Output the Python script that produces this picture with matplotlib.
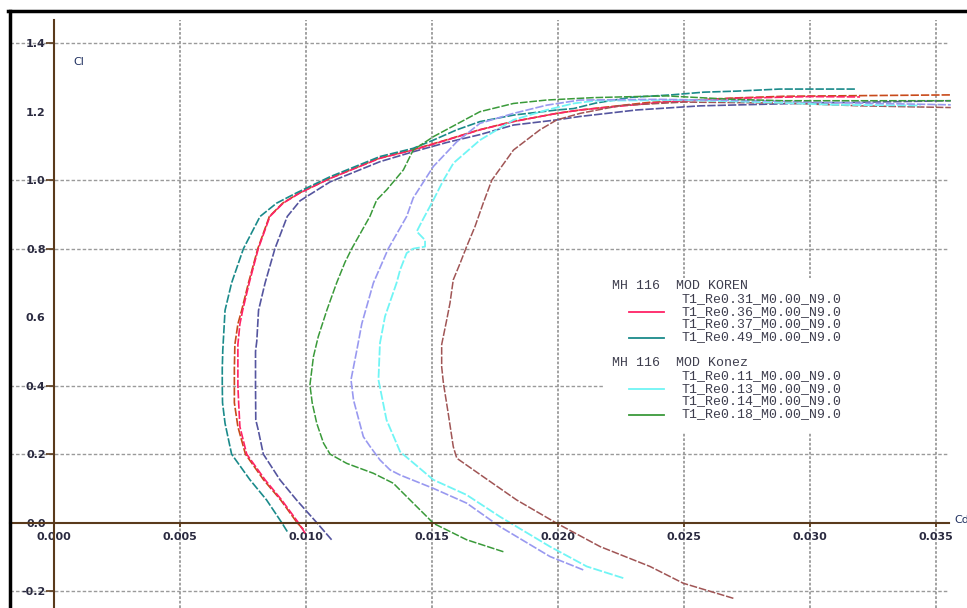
import matplotlib
matplotlib.use("Agg")
import matplotlib.pyplot as plt
from matplotlib.lines import Line2D
from matplotlib.patches import Rectangle

# polaires Cl(Cd) - MH 116, deux versions du profil
# MOD KOREN
cd_re031 = [0.01102, 0.01043, 0.00963, 0.00897, 0.00831, 0.00811, 0.00801, 0.00800, 0.00800, 0.00805, 0.00812,
            0.00838, 0.00877, 0.00926, 0.00977, 0.01096, 0.01294, 0.01426, 0.01559, 0.01691, 0.01824, 0.01996,
            0.02088, 0.02313, 0.02565, 0.0300, 0.0356]
cl_re031 = [-0.05, 0.0, 0.066, 0.125, 0.20, 0.27, 0.30, 0.40, 0.50, 0.53, 0.62,
            0.70, 0.80, 0.894, 0.94, 0.995, 1.054, 1.083, 1.110, 1.133, 1.161, 1.176,
            1.186, 1.205, 1.217, 1.225, 1.232]

cd_re036 = [0.00997, 0.0097, 0.00904, 0.00838, 0.00765, 0.00738, 0.00733, 0.0073, 0.0073, 0.0073, 0.00738,
            0.00749, 0.00775, 0.00811, 0.00857, 0.0091, 0.00977, 0.01096, 0.01294, 0.01426, 0.01559, 0.01691,
            0.01824, 0.01996, 0.02088, 0.02406, 0.02696, 0.0300, 0.0320]
cl_re036 = [-0.031, 0.0, 0.066, 0.125, 0.20, 0.28, 0.35, 0.40, 0.45, 0.52, 0.58,
            0.62, 0.70, 0.80, 0.894, 0.933, 0.963, 1.005, 1.064, 1.088, 1.117, 1.147,
            1.171, 1.195, 1.205, 1.227, 1.239, 1.244, 1.243]

cd_re037 = [0.0099, 0.00965, 0.009, 0.00832, 0.0076, 0.0073, 0.00716, 0.00716, 0.00716, 0.00718, 0.0073,
            0.00745, 0.00772, 0.00809, 0.00855, 0.00908, 0.00975, 0.01094, 0.0129, 0.0142, 0.01555, 0.01688,
            0.0182, 0.01995, 0.0209, 0.0236, 0.027, 0.029, 0.0356]
cl_re037 = [-0.02, 0.0, 0.066, 0.125, 0.20, 0.28, 0.35, 0.40, 0.45, 0.52, 0.58,
            0.62, 0.70, 0.80, 0.894, 0.933, 0.963, 1.005, 1.064, 1.088, 1.117, 1.147,
            1.171, 1.195, 1.205, 1.227, 1.24, 1.245, 1.249]

cd_re049 = [0.00926, 0.00904, 0.00844, 0.00778, 0.00705, 0.00679, 0.00669, 0.00668, 0.00668, 0.0067, 0.00679,
            0.00705, 0.00752, 0.00818, 0.00884, 0.00963, 0.01096, 0.01294, 0.01426, 0.01506, 0.01599, 0.01691,
            0.01824, 0.01996, 0.02062, 0.0215, 0.0229, 0.0245, 0.0258, 0.0271, 0.0288, 0.0318]
cl_re049 = [-0.026, 0.0, 0.066, 0.125, 0.20, 0.29, 0.35, 0.40, 0.45, 0.503, 0.62,
            0.70, 0.80, 0.894, 0.933, 0.963, 1.010, 1.069, 1.093, 1.117, 1.147, 1.171,
            1.190, 1.205, 1.209, 1.225, 1.242, 1.249, 1.257, 1.26, 1.266, 1.266]

# MOD Konez
cd_re011 = [0.02697, 0.02498, 0.02366, 0.02168, 0.01996, 0.01837, 0.01704, 0.01599, 0.01585, 0.01565, 0.01546,
            0.01539, 0.01539, 0.01559, 0.01572, 0.01585, 0.01612, 0.01638, 0.01671, 0.01704, 0.01738, 0.01824,
            0.01929, 0.01996, 0.02088, 0.0225, 0.025, 0.029, 0.032, 0.0356]
cl_re011 = [-0.221, -0.177, -0.128, -0.07, -0.002, 0.066, 0.134, 0.188, 0.222, 0.319, 0.407,
            0.455, 0.52, 0.592, 0.641, 0.709, 0.757, 0.806, 0.864, 0.933, 1.0, 1.088,
            1.147, 1.176, 1.195, 1.218, 1.228, 1.225, 1.217, 1.212]

cd_re013 = [0.0226, 0.02115, 0.01969, 0.01771, 0.01638, 0.01506, 0.01374, 0.0132, 0.01288, 0.01294, 0.01314,
            0.0136, 0.01374, 0.014, 0.01426, 0.01473, 0.01473, 0.0144, 0.0146, 0.01506, 0.01546, 0.01586,
            0.01691, 0.01824, 0.01956, 0.02062, 0.0215, 0.025, 0.028, 0.031, 0.0344]
cl_re013 = [-0.162, -0.128, -0.07, 0.017, 0.081, 0.125, 0.207, 0.30, 0.417, 0.524, 0.602,
            0.70, 0.738, 0.787, 0.80, 0.806, 0.825, 0.85, 0.879, 0.942, 1.0, 1.050,
            1.117, 1.176, 1.205, 1.224, 1.232, 1.234, 1.228, 1.220, 1.218]

cd_re014 = [0.02101, 0.01969, 0.01771, 0.01638, 0.01506, 0.01374, 0.01334, 0.01294, 0.01255, 0.01228, 0.01189,
            0.01179, 0.01202, 0.01222, 0.01268, 0.01327, 0.014, 0.01426, 0.01506, 0.01599, 0.01691, 0.01824,
            0.01956, 0.02088, 0.024, 0.028, 0.032, 0.0356]
cl_re014 = [-0.138, -0.099, -0.012, 0.057, 0.100, 0.139, 0.154, 0.183, 0.222, 0.251, 0.358,
            0.417, 0.503, 0.581, 0.70, 0.80, 0.894, 0.948, 1.040, 1.112, 1.166, 1.195,
            1.219, 1.234, 1.236, 1.232, 1.225, 1.22]

cd_re018 = [0.01784, 0.01638, 0.01506, 0.0148, 0.01374, 0.01347, 0.01268, 0.01162, 0.01096, 0.0107, 0.01043,
            0.01025, 0.01016, 0.0103, 0.01049, 0.01083, 0.01122, 0.01155, 0.01182, 0.01254, 0.01281, 0.01321,
            0.01387, 0.01426, 0.01506, 0.01691, 0.01824, 0.01956, 0.02141, 0.023, 0.02432, 0.02696, 0.02894, 0.0356]
cl_re018 = [-0.085, -0.05, -0.002, 0.0175, 0.095, 0.115, 0.144, 0.173, 0.2, 0.232, 0.29,
            0.35, 0.402, 0.485, 0.543, 0.62, 0.70, 0.76, 0.80, 0.894, 0.942, 0.972,
            1.03, 1.088, 1.127, 1.200, 1.224, 1.234, 1.241, 1.244, 1.246, 1.236, 1.232, 1.232]

koren_labels = ["T1_Re0.31_M0.00_N9.0", "T1_Re0.36_M0.00_N9.0", "T1_Re0.37_M0.00_N9.0", "T1_Re0.49_M0.00_N9.0"]
konez_labels = ["T1_Re0.11_M0.00_N9.0", "T1_Re0.13_M0.00_N9.0", "T1_Re0.14_M0.00_N9.0", "T1_Re0.18_M0.00_N9.0"]

yticks = [1.4, 1.2, 1.0, 0.8, 0.6, 0.4, 0.2, 0.0, -0.2]
xticks = [0.000, 0.005, 0.010, 0.015, 0.020, 0.025, 0.030, 0.035]

W, H = 967, 608
fig = plt.figure(figsize=(W / 100, H / 100), dpi=100)
ax = fig.add_axes([0, 0, 1, 1])
ax.set_xlim(-0.002144, 0.036245)
ax.set_ylim(-0.2493, 1.5261)

brown = "#5a3a1c"
gridc = "#9a9a9a"
txtc = "#2a2a40"

# grille (pas de ligne a 1.2 et 0.6 sur l'original)
for v in [1.4, 1.0, 0.8, 0.2, -0.2]:
    ax.axhline(v, xmin=10 / W, xmax=947 / W, color=gridc, lw=1.0, ls=(0, (2.5, 1.5)), zorder=1)
ax.axhline(0.4, xmin=10 / W, xmax=603 / W, color=gridc, lw=1.0, ls=(0, (2.5, 1.5)), zorder=1)
for v in xticks[1:]:
    ax.axvline(v, ymin=0, ymax=1 - 20 / H, color=gridc, lw=1.3, ls=(0, (1.5, 1.0)), zorder=1)

# cadre blanc de la legende
ax.add_patch(Rectangle((603 / W, 1 - 432 / H), 300 / W, 154 / H, transform=ax.transAxes,
                       facecolor="white", edgecolor="none", zorder=2))

dash = (0, (5, 1.2))
ax.plot(cd_re031, cl_re031, color="#55559f", lw=1.2, ls=dash, zorder=3)
ax.plot(cd_re037, cl_re037, color="#c84a1a", lw=1.2, ls=dash, zorder=3)
ax.plot(cd_re036, cl_re036, color="#ff2266", lw=1.2, ls=dash, zorder=3)
ax.plot(cd_re049, cl_re049, color="#1a8a8a", lw=1.2, ls=dash, zorder=3)
ax.plot(cd_re011, cl_re011, color="#a05555", lw=1.1, ls=dash, zorder=3)
ax.plot(cd_re013, cl_re013, color="#70f5f5", lw=1.3, ls=dash, zorder=3)
ax.plot(cd_re014, cl_re014, color="#9999f0", lw=1.2, ls=dash, zorder=3)
ax.plot(cd_re018, cl_re018, color="#3a9a3a", lw=1.1, ls=dash, zorder=3)

# axes passant par zero
for s in ["top", "right"]:
    ax.spines[s].set_visible(False)
ax.spines["left"].set_position(("data", 0))
ax.spines["bottom"].set_position(("data", 0))
ax.spines["left"].set_bounds(-0.2493, (522.7 - 20) / 342.5)
ax.spines["bottom"].set_bounds(-44 / 25190, 895 / 25190)
for s in ["left", "bottom"]:
    ax.spines[s].set_color(brown)
    ax.spines[s].set_linewidth(1.5)
    ax.spines[s].set_zorder(4)

ax.set_yticks(yticks)
ax.set_yticklabels(["%.1f" % v for v in yticks])
ax.set_xticks(xticks)
ax.set_xticklabels(["%.3f" % v for v in xticks])
ax.tick_params(axis="y", direction="out", length=6, width=1.2, color=brown, pad=0,
               labelsize=8, labelcolor=txtc)
ax.tick_params(axis="x", direction="out", length=3, width=1.2, color=brown, pad=4,
               labelsize=8, labelcolor=txtc)
for lab in ax.get_xticklabels() + ax.get_yticklabels():
    lab.set_fontweight("semibold")
for i, v in enumerate(yticks):
    if v in (1.2, 0.6):
        ax.yaxis.get_major_ticks()[i].tick1line.set_visible(False)

ax.text(73 / W, 1 - 62 / H, "Cl", transform=ax.transAxes, fontsize=8, color="#203060", va="center")
ax.text(954 / W, 1 - 520 / H, "Cd", transform=ax.transAxes, fontsize=8, color="#203060", va="center")

# legende faite a la main
mono = dict(family="Liberation Mono", fontsize=9.5, color="#3e3e4e", va="center", transform=ax.transAxes)
ax.text(612 / W, 1 - 286 / H, "MH 116  MOD KOREN", **mono)
ax.text(612 / W, 1 - 363 / H, "MH 116  MOD Konez", **mono)
ys_koren = [299, 312, 324.5, 337.5]
ys_konez = [376, 389, 401.5, 414.5]
for lab, y in zip(koren_labels, ys_koren):
    ax.text(681 / W, 1 - y / H, lab, **mono)
for lab, y in zip(konez_labels, ys_konez):
    ax.text(681 / W, 1 - y / H, lab, **mono)
samples = [(ys_koren[1], "#ff2266"), (ys_koren[3], "#1a8a8a"), (ys_konez[1], "#70f5f5"), (ys_konez[3], "#3a9a3a")]
for y, c in samples:
    ax.add_line(Line2D([629 / W, 664 / W], [1 - y / H, 1 - y / H], transform=ax.transAxes, color=c, lw=1.3))

# cadre noir en haut et a gauche
fig.add_artist(Line2D([8 / W, 1], [1 - 11 / H, 1 - 11 / H], color="black", lw=2.5))
fig.add_artist(Line2D([10 / W, 10 / W], [0, 1 - 11 / H], color="black", lw=2.5))

fig.savefig("out.png", dpi=100)
